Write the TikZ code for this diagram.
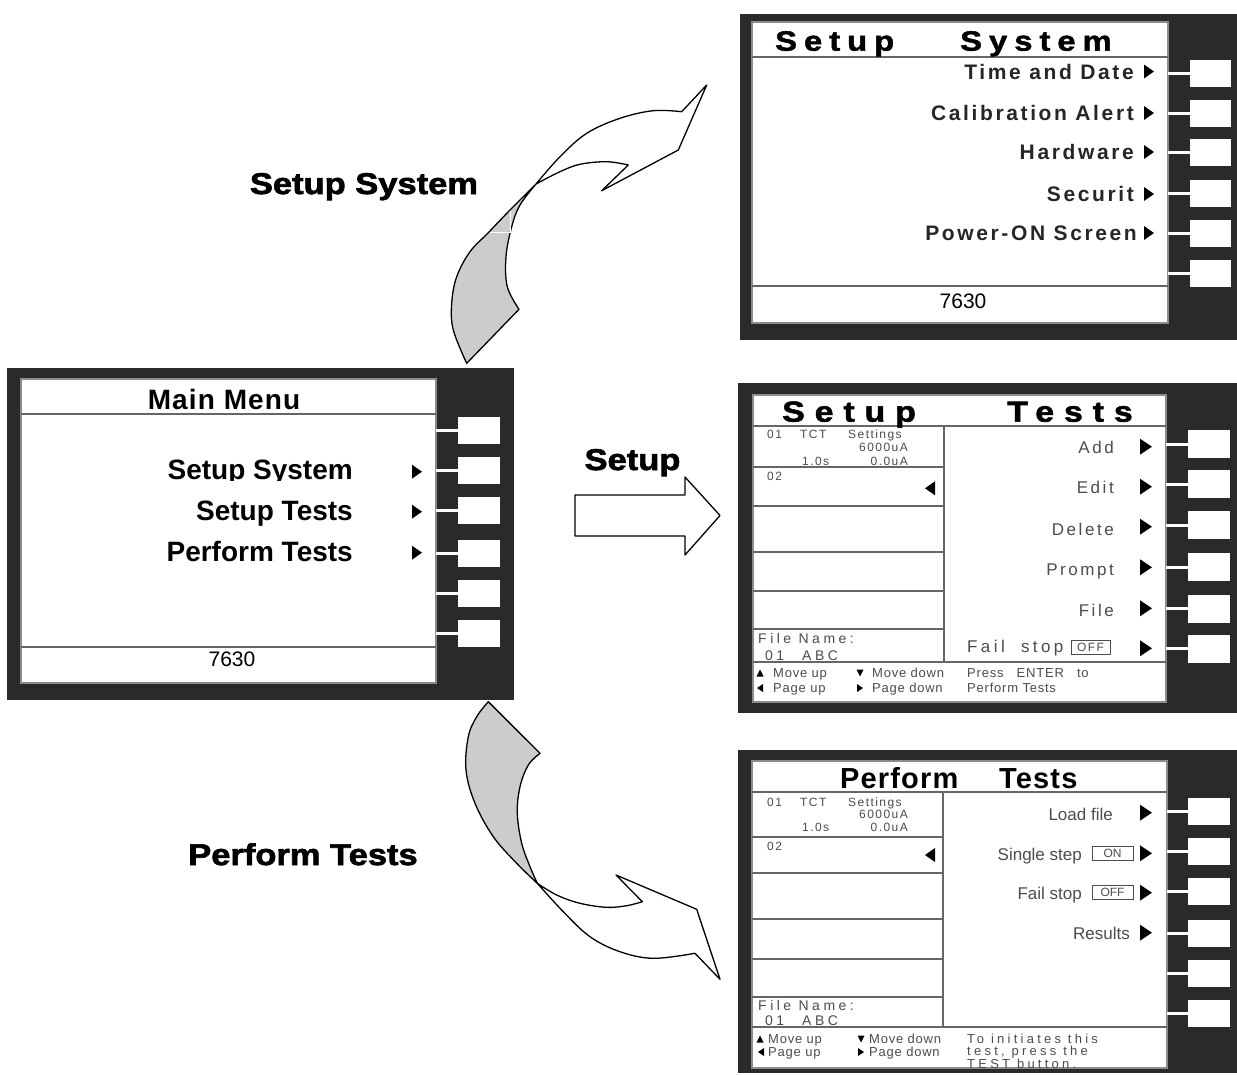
\documentclass[tikz,border=0pt]{standalone}
\usepackage{fontspec}
\setmainfont{Liberation Sans}
\newfontfamily\hv[FakeStretch=1.15,FakeBold=2.2]{Liberation Sans Bold}
\newfontfamily\hvA[FakeStretch=1.17,FakeBold=1.6,LetterSpace=25]{Liberation Sans Bold}
\newfontfamily\hvB[FakeStretch=1.17,FakeBold=1.8,LetterSpace=34]{Liberation Sans Bold}
\newfontfamily\bd{Liberation Sans Bold}
\newfontfamily\bdsp[LetterSpace=4]{Liberation Sans Bold}
\newfontfamily\bdsys[LetterSpace=12.5]{Liberation Sans Bold}
\newfontfamily\rg{Liberation Sans}
\newfontfamily\rgsm[LetterSpace=12]{Liberation Sans}
\newfontfamily\rgsp[LetterSpace=15]{Liberation Sans}
\newfontfamily\rgfs[LetterSpace=20]{Liberation Sans}
\newfontfamily\rgwide[LetterSpace=25]{Liberation Sans}
\newfontfamily\rgft[LetterSpace=6]{Liberation Sans}
\definecolor{panel}{HTML}{2A2A2A}
\definecolor{txtg}{gray}{0.3}
\definecolor{argrey}{HTML}{CCCCCC}
\newcommand\rtrig[4]{\fill (#1-#3,#2-#4) -- (#1+#3,#2) -- (#1-#3,#2+#4) -- cycle;}
\newcommand\ltrig[4]{\fill (#1+#3,#2-#4) -- (#1-#3,#2) -- (#1+#3,#2+#4) -- cycle;}
\newcommand\utrig[4]{\fill (#1-#3,#2+#4) -- (#1,#2-#4) -- (#1+#3,#2+#4) -- cycle;}
\newcommand\dtrig[4]{\fill (#1-#3,#2-#4) -- (#1,#2+#4) -- (#1+#3,#2-#4) -- cycle;}
\tikzset{
  panelbg/.style={fill=panel,draw=none,inner sep=0pt,outer sep=0pt},
  screen/.style={fill=white,draw=black!45,line width=1.3pt,inner sep=0pt,outer sep=0pt},
  btn/.style={fill=white,draw=none,inner sep=0pt,outer sep=0pt,minimum width=42pt,minimum height=27pt},
  conn/.style={white,line width=3pt},
  sep/.style={black!60,line width=1.4pt},
  lbl/.style={font=\hv\fontsize{30}{30}\selectfont,anchor=base,inner sep=0pt},
  mitem/.style={font=\bd\fontsize{28}{28}\selectfont,anchor=base east,inner sep=0pt},
  sitem/.style={font=\bdsys\fontsize{21}{21}\selectfont,anchor=base east,inner sep=0pt,text=black!85},
  titem/.style={font=\rgsp\fontsize{17}{17}\selectfont,anchor=base east,inner sep=0pt,text=txtg},
  pitem/.style={font=\rg\fontsize{17}{17}\selectfont,anchor=base east,inner sep=0pt,text=txtg},
  small/.style={font=\rgsm\fontsize{12}{12}\selectfont,inner sep=0pt,text=txtg},
  fname/.style={font=\rgwide\fontsize{14}{14}\selectfont,anchor=base west,inner sep=0pt,text=txtg},
  foot/.style={font=\rgft\fontsize{13}{13}\selectfont,anchor=base west,inner sep=0pt,text=txtg},
  footw/.style={font=\rgwide\fontsize{13}{13}\selectfont,anchor=base west,inner sep=0pt,text=txtg},
  flag/.style={draw=black!70,line width=1pt,inner sep=0pt,minimum height=14pt,font=\rg\fontsize{12}{12}\selectfont,text=txtg},
  ribbon/.style={draw=black,line width=1.3pt,line join=round},
}
\begin{document}
\begin{tikzpicture}[x=1pt,y=-1pt]
\useasboundingbox[fill=white] (0,0) rectangle (1237,1074);

% ================= Main menu panel =================
\node[panelbg,minimum width=507pt,minimum height=332pt] (mainBg) at (260.5,534) {};
\node[screen,minimum width=415pt,minimum height=304pt] (mainS) at (228.5,531) {};
\draw[sep] (21,414) -- (436,414);
\draw[sep] (21,647) -- (436,647);
\foreach \i/\y in {1/430,2/470.5,3/510.5,4/553,5/593,6/633}{
  \node[btn] (mb\i) at (479,\y) {};
  \draw[conn] (mainS.east |- mb\i) -- (mb\i.west);
}
\node[font=\bdsp\fontsize{28}{28}\selectfont,anchor=base,inner sep=0pt] (mmT) at (224,409) {Main Menu};
\begin{scope}
  \clip (120,445) rectangle (380,480.5);
  \node[mitem] (mm1) at (353,479) {Setup System};
\end{scope}
\node[mitem] (mm2) at (353,520) {Setup Tests};
\node[mitem] (mm3) at (353,561.7) {Perform Tests};
\rtrig{417}{471.7}{5}{7}
\rtrig{417}{511.7}{5}{7}
\rtrig{417}{552.7}{5}{7}
\node[font=\rg\fontsize{21}{21}\selectfont,anchor=base,inner sep=0pt] (m7630) at (232,666.7) {7630};

% ================= Setup System panel =================
\node[panelbg,minimum width=497pt,minimum height=326pt] (sysBg) at (988.5,177) {};
\node[screen,minimum width=416pt,minimum height=301pt] (sysS) at (960,172.5) {};
\draw[sep] (752,57) -- (1168,57);
\draw[sep] (752,286) -- (1168,286);
\foreach \i/\y in {1/73,2/113,3/152,4/193.5,5/233.5,6/273.5}{
  \node[btn,minimum width=41pt] (sb\i) at (1210.5,\y) {};
  \draw[conn] (sysS.east |- sb\i) -- (sb\i.west);
}
\node[font=\hvA\fontsize{28}{28}\selectfont,anchor=base west,inner sep=0pt] (sT1) at (775,50.7) {Setup};
\node[font=\hvA\fontsize{28}{28}\selectfont,anchor=base west,inner sep=0pt] (sT2) at (960,50.7) {System};
\node[sitem] (sI1) at (1134,79) {Time and Date};
\node[sitem] (sI2) at (1134,120.7) {Calibration Alert};
\node[sitem] (sI3) at (1134,159.3) {Hardware};
\node[sitem] (sI4) at (1134,201.7) {Securit};
\node[sitem] (sI5) at (1137,240.7) {Power-ON Screen};
\foreach \y in {71.5,113,152,194,233}{ \rtrig{1149}{\y}{5}{7} }
\node[font=\rg\fontsize{21}{21}\selectfont,anchor=base,inner sep=0pt] (s7630) at (963,308.3) {7630};

% ================= Setup Tests panel =================
\node[panelbg,minimum width=499pt,minimum height=330pt] (tstBg) at (987.5,548) {};
\node[screen,minimum width=413pt,minimum height=307pt] (tstS) at (959.5,548.5) {};
\draw[sep] (753,426) -- (1166,426);
\draw[sep] (753,662) -- (1166,662);
\draw[sep] (944,426) -- (944,662);
\foreach \y in {467,506,552,591,629}{ \draw[sep] (753,\y) -- (944,\y); }
\foreach \i/\y in {1/444,2/484,3/525,4/567,5/608.5,6/648.5}{
  \node[btn,minimum height=28pt] (tb\i) at (1209,\y) {};
  \draw[conn] (tstS.east |- tb\i) -- (tb\i.west);
}
\node[font=\hvB\fontsize{29}{29}\selectfont,anchor=base west,inner sep=0pt] (tT1) at (782,421.7) {Setup};
\node[font=\hvB\fontsize{29}{29}\selectfont,anchor=base west,inner sep=0pt] (tT2) at (1007,421.7) {Tests};
\node[small,anchor=base west] (t01) at (767,438) {01};
\node[small,anchor=base west] (tTCT) at (800,438) {TCT};
\node[small,anchor=base west] (tSet) at (848,438) {Settings};
\node[small,anchor=base east] (t6000) at (908,451.7) {6000uA};
\node[small,anchor=base west] (t10s) at (802,465) {1.0s};
\node[small,anchor=base east] (t00) at (908,465) {0.0uA};
\node[small,anchor=base west] (t02) at (767,480) {02};
\ltrig{930}{488.3}{5}{7}
\node[titem] (tA1) at (1114,453.3) {Add};
\node[titem] (tA2) at (1114,493.3) {Edit};
\node[titem] (tA3) at (1114,535.7) {Delete};
\node[titem] (tA4) at (1114,575.7) {Prompt};
\node[titem] (tA5) at (1114,616) {File};
\node[font=\rgfs\fontsize{17}{17}\selectfont,anchor=base west,inner sep=0pt,text=txtg] (tFS) at (967,652.7) {Fail\ \ stop};
\node[flag,minimum width=39pt,font=\rgsm\fontsize{12}{12}\selectfont] (tOFF) at (1090.5,647.5) {OFF};
\foreach \y in {446.7,486.7,526.7,567.3,608.3,648.3}{ \rtrig{1146}{\y}{6}{8} }
\node[fname] (tFN) at (758,643.3) {File Name:};
\node[fname] (tF01) at (765,660) {01};
\node[fname] (tFABC) at (802,660) {ABC};
\utrig{760}{673}{3.5}{3.5}
\node[foot] (tMu) at (773,677.3) {Move up};
\dtrig{860}{673}{3.5}{3.5}
\node[foot] (tMd) at (872,677.3) {Move down};
\node[foot] (tPr) at (967,677.3) {Press\ \ \ ENTER\ \ \ to};
\ltrig{760}{688}{3}{4}
\node[foot] (tPu) at (773,692.7) {Page up};
\rtrig{860}{688}{3}{4}
\node[foot] (tPd) at (872,692.7) {Page down};
\node[foot] (tPT) at (967,692.7) {Perform Tests};

% ================= Perform Tests panel =================
\node[panelbg,minimum width=499pt,minimum height=323pt] (prfBg) at (987.5,911.5) {};
\node[screen,minimum width=415pt,minimum height=307pt] (prfS) at (959.5,914.5) {};
\draw[sep] (752,792) -- (1167,792);
\draw[sep] (752,1027) -- (1167,1027);
\draw[sep] (943,792) -- (943,1027);
\foreach \y in {837,873,919,959,997}{ \draw[sep] (752,\y) -- (943,\y); }
\foreach \i/\y in {1/811,2/851,3/891,4/933.5,5/973.5,6/1013.5}{
  \node[btn] (pb\i) at (1209,\y) {};
  \draw[conn] (prfS.east |- pb\i) -- (pb\i.west);
}
\node[font=\bdsp\fontsize{29}{29}\selectfont,anchor=base west,inner sep=0pt] (pT1) at (840,788.3) {Perform};
\node[font=\bdsp\fontsize{29}{29}\selectfont,anchor=base west,inner sep=0pt] (pT2) at (999,788.3) {Tests};
\node[small,anchor=base west] (p01) at (767,806.7) {01};
\node[small,anchor=base west] (pTCT) at (800,806.7) {TCT};
\node[small,anchor=base west] (pSet) at (848,806.7) {Settings};
\node[small,anchor=base east] (p6000) at (908,818) {6000uA};
\node[small,anchor=base west] (p10s) at (802,831.7) {1.0s};
\node[small,anchor=base east] (p00) at (908,831.7) {0.0uA};
\node[small,anchor=base west] (p02) at (767,850) {02};
\ltrig{930}{855}{5}{7}
\node[pitem] (pL) at (1113,820) {Load file};
\node[pitem] (pSS) at (1082,860) {Single step};
\node[flag,minimum width=41pt] (pON) at (1112.5,853.7) {ON};
\node[pitem] (pFS) at (1082,899.3) {Fail stop};
\node[flag,minimum width=41pt] (pOFF) at (1112.5,892.8) {OFF};
\node[pitem] (pR) at (1130,939.3) {Results};
\foreach \y in {812.7,853.3,892.7,932.7}{ \rtrig{1146}{\y}{6}{8} }
\node[fname] (pFN) at (758,1010) {File Name:};
\node[fname] (pF01) at (765,1025) {01};
\node[fname] (pFABC) at (802,1025) {ABC};
\utrig{760}{1039}{3.5}{3.5}
\node[foot] (pMu) at (768,1043.3) {Move up};
\dtrig{861}{1039}{3.5}{3.5}
\node[foot] (pMd) at (869,1043.3) {Move down};
\ltrig{761}{1052}{3}{4}
\node[foot] (pPu) at (768,1056.7) {Page up};
\rtrig{861}{1052}{3}{4}
\node[foot] (pPd) at (869,1056.7) {Page down};
\begin{scope}
  \clip (944,1028) rectangle (1166,1067.5);
  \node[footw] (pTo) at (967,1043.3) {To initiates this};
  \node[footw] (pTe) at (967,1055.5) {test, press the};
  \node[footw] (pTB) at (967,1068) {TEST button.};
\end{scope}

% ================= Labels =================
\node[lbl] (lblSys) at (364,194) {Setup System};
\node[lbl] (lblSetup) at (632.5,470) {Setup};
\node[lbl] (lblPerf) at (303,865) {Perform Tests};

% ================= Straight arrow =================
\draw[ribbon,fill=white] (575,495) -- (685,495) -- (685,477) -- (720,515.5)
  -- (685,555) -- (685,536) -- (575,536) -- cycle;

% ================= Top curved arrow =================
\filldraw[ribbon,fill=argrey]
  plot[smooth,tension=0.6] coordinates {(466.7,363.3) (453.3,330) (451.7,303.3) (456.7,276.7) (470,251.7) (488.3,232.7) (510,210) (536,184)}
  -- plot[smooth,tension=0.6] coordinates {(536,184) (520,205) (511.7,226.7) (506,256.7) (507.3,286.7) (519,309.3)}
  -- cycle;
\filldraw[ribbon,fill=white]
  plot[smooth,tension=0.6] coordinates {(536,184) (560,156.7) (586.7,133.3) (620,118.3) (653.3,110.7) (681.7,111.7)}
  -- (706.7,85) -- (678.3,150) -- (601.7,190.7) -- (628.3,165)
  -- plot[smooth,tension=0.6] coordinates {(628.3,165) (606.7,161.7) (580,164.3) (560,171.7) (536,184)}
  -- cycle;
\draw[white,line width=1pt] (510,211) -- (510,232) -- (490,232);

% ================= Bottom curved arrow =================
\filldraw[ribbon,fill=argrey]
  (488.3,701.7) -- plot[smooth,tension=0.6] coordinates {(540,753.3) (528.3,765) (520,786.7) (517.3,813.3) (521.7,843.3) (530,866.7) (537.3,883.3)}
  -- plot[smooth,tension=0.6] coordinates {(537.3,883.3) (516.7,863.3) (493.3,836.7) (475,803.3) (466,770) (468.3,736.7) (476.7,716.7) (488.3,701.7)}
  -- cycle;
\filldraw[ribbon,fill=white]
  plot[smooth,tension=0.6] coordinates {(537.3,883.3) (563.3,911.7) (590,936.7) (620,951.7) (653.3,958.3) (695,953.3)}
  -- (720,979.3) -- (696.7,909.3) -- (616,875) -- (642.3,901.7)
  -- plot[smooth,tension=0.6] coordinates {(642.3,901.7) (626.7,905.7) (606.7,907.3) (580,903.3) (556.7,895) (537.3,883.3)}
  -- cycle;
\end{tikzpicture}
\end{document}
